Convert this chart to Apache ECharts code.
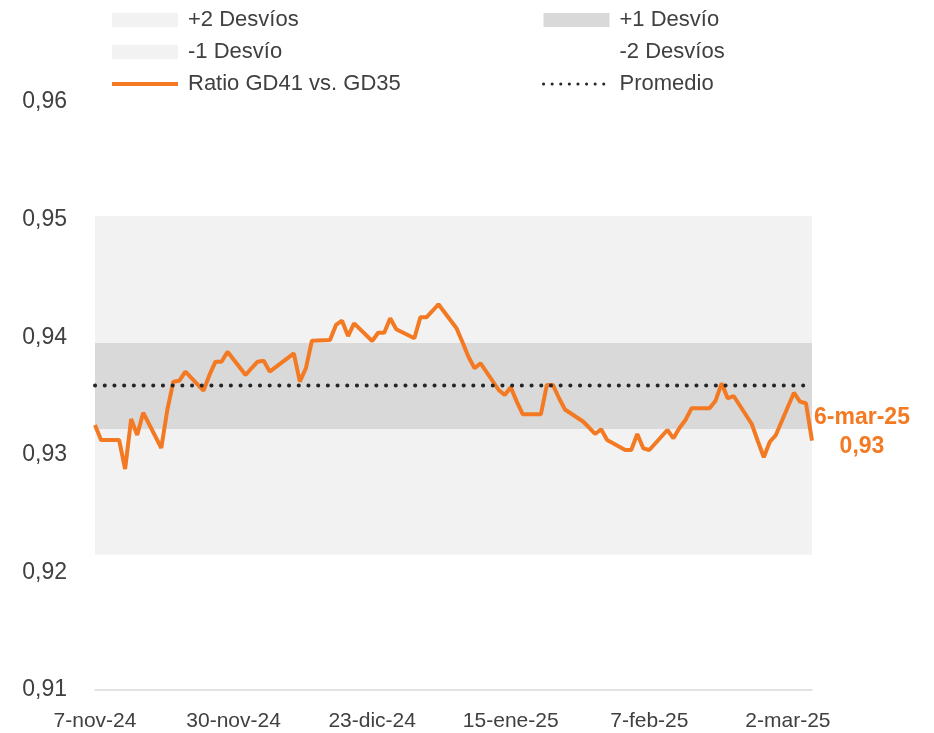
<!DOCTYPE html>
<html>
<head>
<meta charset="utf-8">
<script src="https://cdn.jsdelivr.net/npm/echarts@6/dist/echarts.min.js"></script>
<style>
html, body { margin: 0; background: #fff; }
#main { width: 934px; height: 733px; }
</style>
</head>
<body>
<div id="main"></div>
<script>
// ratio GD41 / GD35, ruedas hábiles
var fechas = [
    '2024-11-07', '2024-11-08', '2024-11-11', '2024-11-12', '2024-11-13', '2024-11-14', '2024-11-15',
    '2024-11-18', '2024-11-19', '2024-11-20', '2024-11-21', '2024-11-22', '2024-11-25', '2024-11-26',
    '2024-11-27', '2024-11-28', '2024-11-29', '2024-12-02', '2024-12-03', '2024-12-04', '2024-12-05',
    '2024-12-06', '2024-12-10', '2024-12-11', '2024-12-12', '2024-12-13', '2024-12-16', '2024-12-17',
    '2024-12-18', '2024-12-19', '2024-12-20', '2024-12-23', '2024-12-24', '2024-12-25', '2024-12-26',
    '2024-12-27', '2024-12-30', '2024-12-31', '2025-01-01', '2025-01-02', '2025-01-03', '2025-01-06',
    '2025-01-07', '2025-01-08', '2025-01-09', '2025-01-10', '2025-01-13', '2025-01-14', '2025-01-15',
    '2025-01-16', '2025-01-17', '2025-01-20', '2025-01-21', '2025-01-22', '2025-01-23', '2025-01-24',
    '2025-01-27', '2025-01-28', '2025-01-29', '2025-01-30', '2025-01-31', '2025-02-03', '2025-02-04',
    '2025-02-05', '2025-02-06', '2025-02-07', '2025-02-10', '2025-02-11', '2025-02-12', '2025-02-13',
    '2025-02-14', '2025-02-17', '2025-02-18', '2025-02-19', '2025-02-20', '2025-02-21', '2025-02-24',
    '2025-02-25', '2025-02-26', '2025-02-27', '2025-02-28', '2025-03-03', '2025-03-04', '2025-03-05',
    '2025-03-06'
];
var ratio = [
    0.93253, 0.93126, 0.93126, 0.92879, 0.93304, 0.93168, 0.93358,
    0.93058, 0.93381, 0.93622, 0.93630, 0.93707, 0.93545, 0.93679,
    0.93792, 0.93792, 0.93877, 0.93679, 0.93738, 0.93792, 0.93800,
    0.93707, 0.93863, 0.93622, 0.93736, 0.93970, 0.93976, 0.94104,
    0.94140, 0.94010, 0.94118, 0.93968, 0.94038, 0.94038, 0.94161,
    0.94067, 0.93991, 0.94169, 0.94169, 0.94223, 0.94280, 0.94076,
    0.93957, 0.93832, 0.93736, 0.93778, 0.93551, 0.93508, 0.93574,
    0.93452, 0.93344, 0.93344, 0.93594, 0.93594, 0.93483, 0.93385,
    0.93283, 0.93232, 0.93177, 0.93217, 0.93126, 0.93041, 0.93041,
    0.93177, 0.93055, 0.93041, 0.93211, 0.93140, 0.93228, 0.93296,
    0.93395, 0.93395, 0.93460, 0.93608, 0.93480, 0.93500, 0.93262,
    0.93117, 0.92979, 0.93111, 0.93168, 0.93528, 0.93452, 0.93438,
    0.93120
];
var promedio = 0.9359;
// bordes de las bandas: -2, -1, +1, +2 desvíos
var bandas = [0.9215, 0.9322, 0.9395, 0.9503];
var meses = ['ene', 'feb', 'mar', 'abr', 'may', 'jun', 'jul', 'ago', 'sep', 'oct', 'nov', 'dic'];

var naranja = '#f37a22';
var gris = '#404040';
var fuente = '"Liberation Sans", Arial, sans-serif';

// eje de fechas corridas (como el eje de fechas de Excel)
var DIA = 86400000;
function utc(s) {
    var p = s.split('-');
    return Date.UTC(+p[0], +p[1] - 1, +p[2]);
}
var inicio = utc(fechas[0]);
var nDias = (utc(fechas[fechas.length - 1]) - inicio) / DIA + 1;
var categorias = [];
for (var i = 0; i < nDias; i++) {
    var d = new Date(inicio + i * DIA);
    categorias.push(d.getUTCDate() + '-' + meses[d.getUTCMonth()] + '-' + String(d.getUTCFullYear()).slice(2));
}

var serieRatio = new Array(nDias).fill(null);
fechas.forEach(function (f, k) {
    serieRatio[(utc(f) - inicio) / DIA] = ratio[k];
});

function constante(v) {
    return categorias.map(function () { return v; });
}

function banda(nombre, valor, color) {
    return {
        name: nombre,
        type: 'line',
        stack: 'bandas',
        data: constante(valor),
        symbol: 'none',
        silent: true,
        lineStyle: { width: 0 },
        itemStyle: { color: color || 'rgba(0,0,0,0)' },
        areaStyle: color ? { color: color, opacity: 1 } : { opacity: 0 },
        z: 1
    };
}

var myChart = echarts.init(document.getElementById('main'));

var legendBase = {
    orient: 'vertical',
    top: 8,
    padding: 0,
    itemWidth: 66,
    itemHeight: 14,
    itemGap: 8,
    selectedMode: false,
    textStyle: {
        color: gris,
        fontFamily: fuente,
        fontSize: 22,
        lineHeight: 24,
        padding: [0, 0, 0, 5]
    }
};
var sinSimbolo = { color: 'rgba(0,0,0,0)', borderWidth: 0 };

option = {
    animation: false,
    backgroundColor: '#fff',
    legend: [
        Object.assign({}, legendBase, {
            left: 110,
            data: [
                { name: '+2 Desvíos', icon: 'rect', itemStyle: { color: '#f2f2f2' } },
                { name: '-1 Desvío', icon: 'rect', itemStyle: { color: '#f2f2f2' } },
                {
                    name: 'Ratio GD41 vs. GD35',
                    itemStyle: sinSimbolo,
                    lineStyle: { color: naranja, width: 4 }
                }
            ]
        }),
        Object.assign({}, legendBase, {
            left: 542,
            data: [
                { name: '+1 Desvío', icon: 'rect', itemStyle: { color: '#d9d9d9' } },
                { name: '-2 Desvíos', icon: 'rect', itemStyle: { color: 'rgba(0,0,0,0)' } },
                {
                    name: 'Promedio',
                    itemStyle: sinSimbolo,
                    lineStyle: { color: '#262626', width: 3, type: [0.1, 8.5], cap: 'round' }
                }
            ]
        })
    ],
    grid: {
        left: 95,
        right: 122,
        top: 102,
        bottom: 43,
        containLabel: false
    },
    xAxis: {
        type: 'category',
        boundaryGap: false,
        data: categorias,
        axisLine: {
            lineStyle: { color: '#d9d9d9', width: 1.5 }
        },
        axisTick: { show: false },
        splitLine: { show: false },
        axisLabel: {
            interval: 22,
            margin: 21,
            color: gris,
            fontFamily: fuente,
            fontSize: 21,
            hideOverlap: false
        }
    },
    yAxis: {
        type: 'value',
        min: 0.91,
        max: 0.96,
        interval: 0.01,
        axisLine: { show: false },
        axisTick: { show: false },
        splitLine: { show: false },
        axisLabel: {
            margin: 28,
            color: gris,
            fontFamily: fuente,
            fontSize: 23,
            formatter: function (v) {
                return v.toFixed(2).replace('.', ',');
            }
        }
    },
    series: [
        banda('-2 Desvíos', bandas[0], null),
        banda('-1 Desvío', bandas[1] - bandas[0], '#f2f2f2'),
        banda('+1 Desvío', bandas[2] - bandas[1], '#d9d9d9'),
        banda('+2 Desvíos', bandas[3] - bandas[2], '#f2f2f2'),
        {
            name: 'Ratio GD41 vs. GD35',
            type: 'line',
            data: serieRatio,
            connectNulls: true,
            symbol: 'none',
            itemStyle: { color: naranja },
            lineStyle: { color: naranja, width: 4 },
            endLabel: {
                show: true,
                distance: 0,
                align: 'center',
                offset: [50, -9],
                lineHeight: 29,
                color: naranja,
                fontFamily: fuente,
                fontSize: 23,
                fontWeight: 'bold',
                formatter: function (p) {
                    var v = Array.isArray(p.value) ? p.value[1] : p.value;
                    return categorias[p.dataIndex] + '\n' + v.toFixed(2).replace('.', ',');
                }
            },
            z: 3
        },
        {
            name: 'Promedio',
            type: 'line',
            data: constante(promedio),
            symbol: 'none',
            silent: true,
            itemStyle: { color: '#262626' },
            lineStyle: { color: '#262626', width: 4, type: [0.1, 9.6], cap: 'round' },
            z: 4
        }
    ]
};
myChart.setOption(option);
</script>
</body>
</html>
